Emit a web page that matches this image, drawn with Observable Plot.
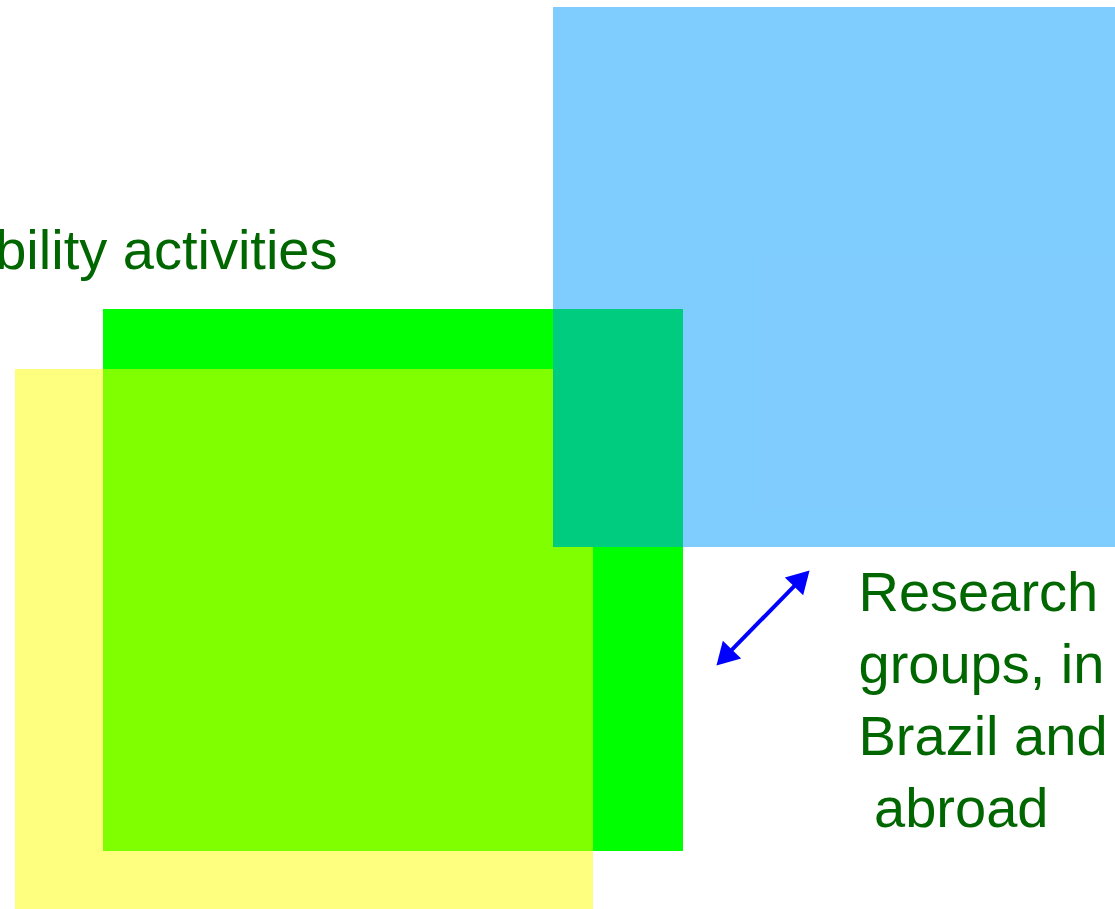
<!DOCTYPE html>
<html>
<head>
<meta charset="utf-8">
<script src="https://cdn.jsdelivr.net/npm/d3@7"></script>
<script src="https://cdn.jsdelivr.net/npm/@observablehq/plot@0.6"></script>
<style>
  html, body { margin: 0; padding: 0; background: #ffffff; }
  #chart svg { display: block; }
</style>
</head>
<body>
<div id="chart"></div>
<script>
// Diagram canvas units (x to the right, y downwards)
const canvasW = 1115;
const canvasH = 909;

// Rectangles (drawn in this order)
const boxNames   = ["mobility", "yellow", "research"];
const boxX1      = [103, 15, 553];
const boxX2      = [683, 593, 1125];
const boxY1      = [309, 369, 7];
const boxY2      = [851, 915, 547];
const boxColors  = ["#00ff00", "#ffff00", "#0099ff"];
const boxOpacity = [1, 0.5, 0.5];

// Labels
const labelTexts  = ["Mobility activities", "Research\ngroups, in\nBrazil and\n\u00a0abroad"];
const labelX      = [337, 858];
const labelY      = [268, 826];
const labelAnchor = ["end", "start"];

// Double-headed arrow (tip to tip)
const arrowFrom = [713, 668];
const arrowTo   = [812, 567];

const boxes = boxNames.map((name, i) => ({
  name, x1: boxX1[i], x2: boxX2[i], y1: boxY1[i], y2: boxY2[i],
  fill: boxColors[i], opacity: boxOpacity[i]
}));
// the research box shows the mobility (green) box through it: overlap of box 0 and box 2
const overlap = [{
  x1: Math.max(boxX1[0], boxX1[2]), x2: Math.min(boxX2[0], boxX2[2]),
  y1: Math.max(boxY1[0], boxY1[2]), y2: Math.min(boxY2[0], boxY2[2])
}];
const labels = labelTexts.map((t, i) => ({text: t, x: labelX[i], y: labelY[i], anchor: labelAnchor[i]}));

// arrow geometry derived from the endpoints
const dx = arrowTo[0] - arrowFrom[0], dy = arrowTo[1] - arrowFrom[1];
const len = Math.hypot(dx, dy);
const ux = dx / len, uy = dy / len;
const headSize = 470;                          // symbol area
const yc = Math.sqrt(headSize / (3 * Math.sqrt(3))); // centroid-to-base distance
const tipOff = 2 * yc;                          // centroid-to-tip distance
const angleTo = Math.atan2(dx, -dy) * 180 / Math.PI;
const heads = [
  {x: arrowTo[0] - ux * tipOff, y: arrowTo[1] - uy * tipOff, rot: angleTo},
  {x: arrowFrom[0] + ux * tipOff, y: arrowFrom[1] + uy * tipOff, rot: angleTo + 180}
];
const shaft = [{
  x1: arrowFrom[0] + ux * (tipOff + yc * 0.6), y1: arrowFrom[1] + uy * (tipOff + yc * 0.6),
  x2: arrowTo[0] - ux * (tipOff + yc * 0.6), y2: arrowTo[1] - uy * (tipOff + yc * 0.6)
}];

const font = "Liberation Sans, Arial, sans-serif";
const plot = Plot.plot({
  width: canvasW,
  height: canvasH,
  margin: 0,
  style: {background: "#ffffff"},
  x: {domain: [0, canvasW], range: [0, canvasW], axis: null},
  y: {domain: [0, canvasH], range: [0, canvasH], axis: null},
  marks: [
    Plot.rect(boxes.slice(0, 2), {x1: "x1", x2: "x2", y1: "y1", y2: "y2", fill: d => d.fill, fillOpacity: d => d.opacity}),
    Plot.rect(overlap, {x1: "x1", x2: "x2", y1: "y1", y2: "y2", fill: boxColors[0]}),
    Plot.rect(boxes.slice(2), {x1: "x1", x2: "x2", y1: "y1", y2: "y2", fill: d => d.fill, fillOpacity: d => d.opacity}),
    Plot.link(shaft, {x1: "x1", y1: "y1", x2: "x2", y2: "y2", stroke: "#0000ff", strokeWidth: 4}),
    Plot.dot(heads, {x: "x", y: "y", symbol: "triangle2", r: Math.sqrt(headSize / Math.PI), rotate: "rot", fill: "#0000ff", stroke: "none"}),
    Plot.text(labels.filter(d => d.anchor === "end"), {x: "x", y: "y", text: "text", textAnchor: "end", lineAnchor: "bottom",
      fontSize: 56, fontFamily: font, fill: "#006600"}),
    Plot.text(labels.filter(d => d.anchor === "start"), {x: "x", y: "y", text: "text", textAnchor: "start", lineAnchor: "bottom",
      lineHeight: 72 / 56, fontSize: 56, fontFamily: font, fill: "#006600"})
  ]
});
document.getElementById("chart").appendChild(plot);
</script>
</body>
</html>
